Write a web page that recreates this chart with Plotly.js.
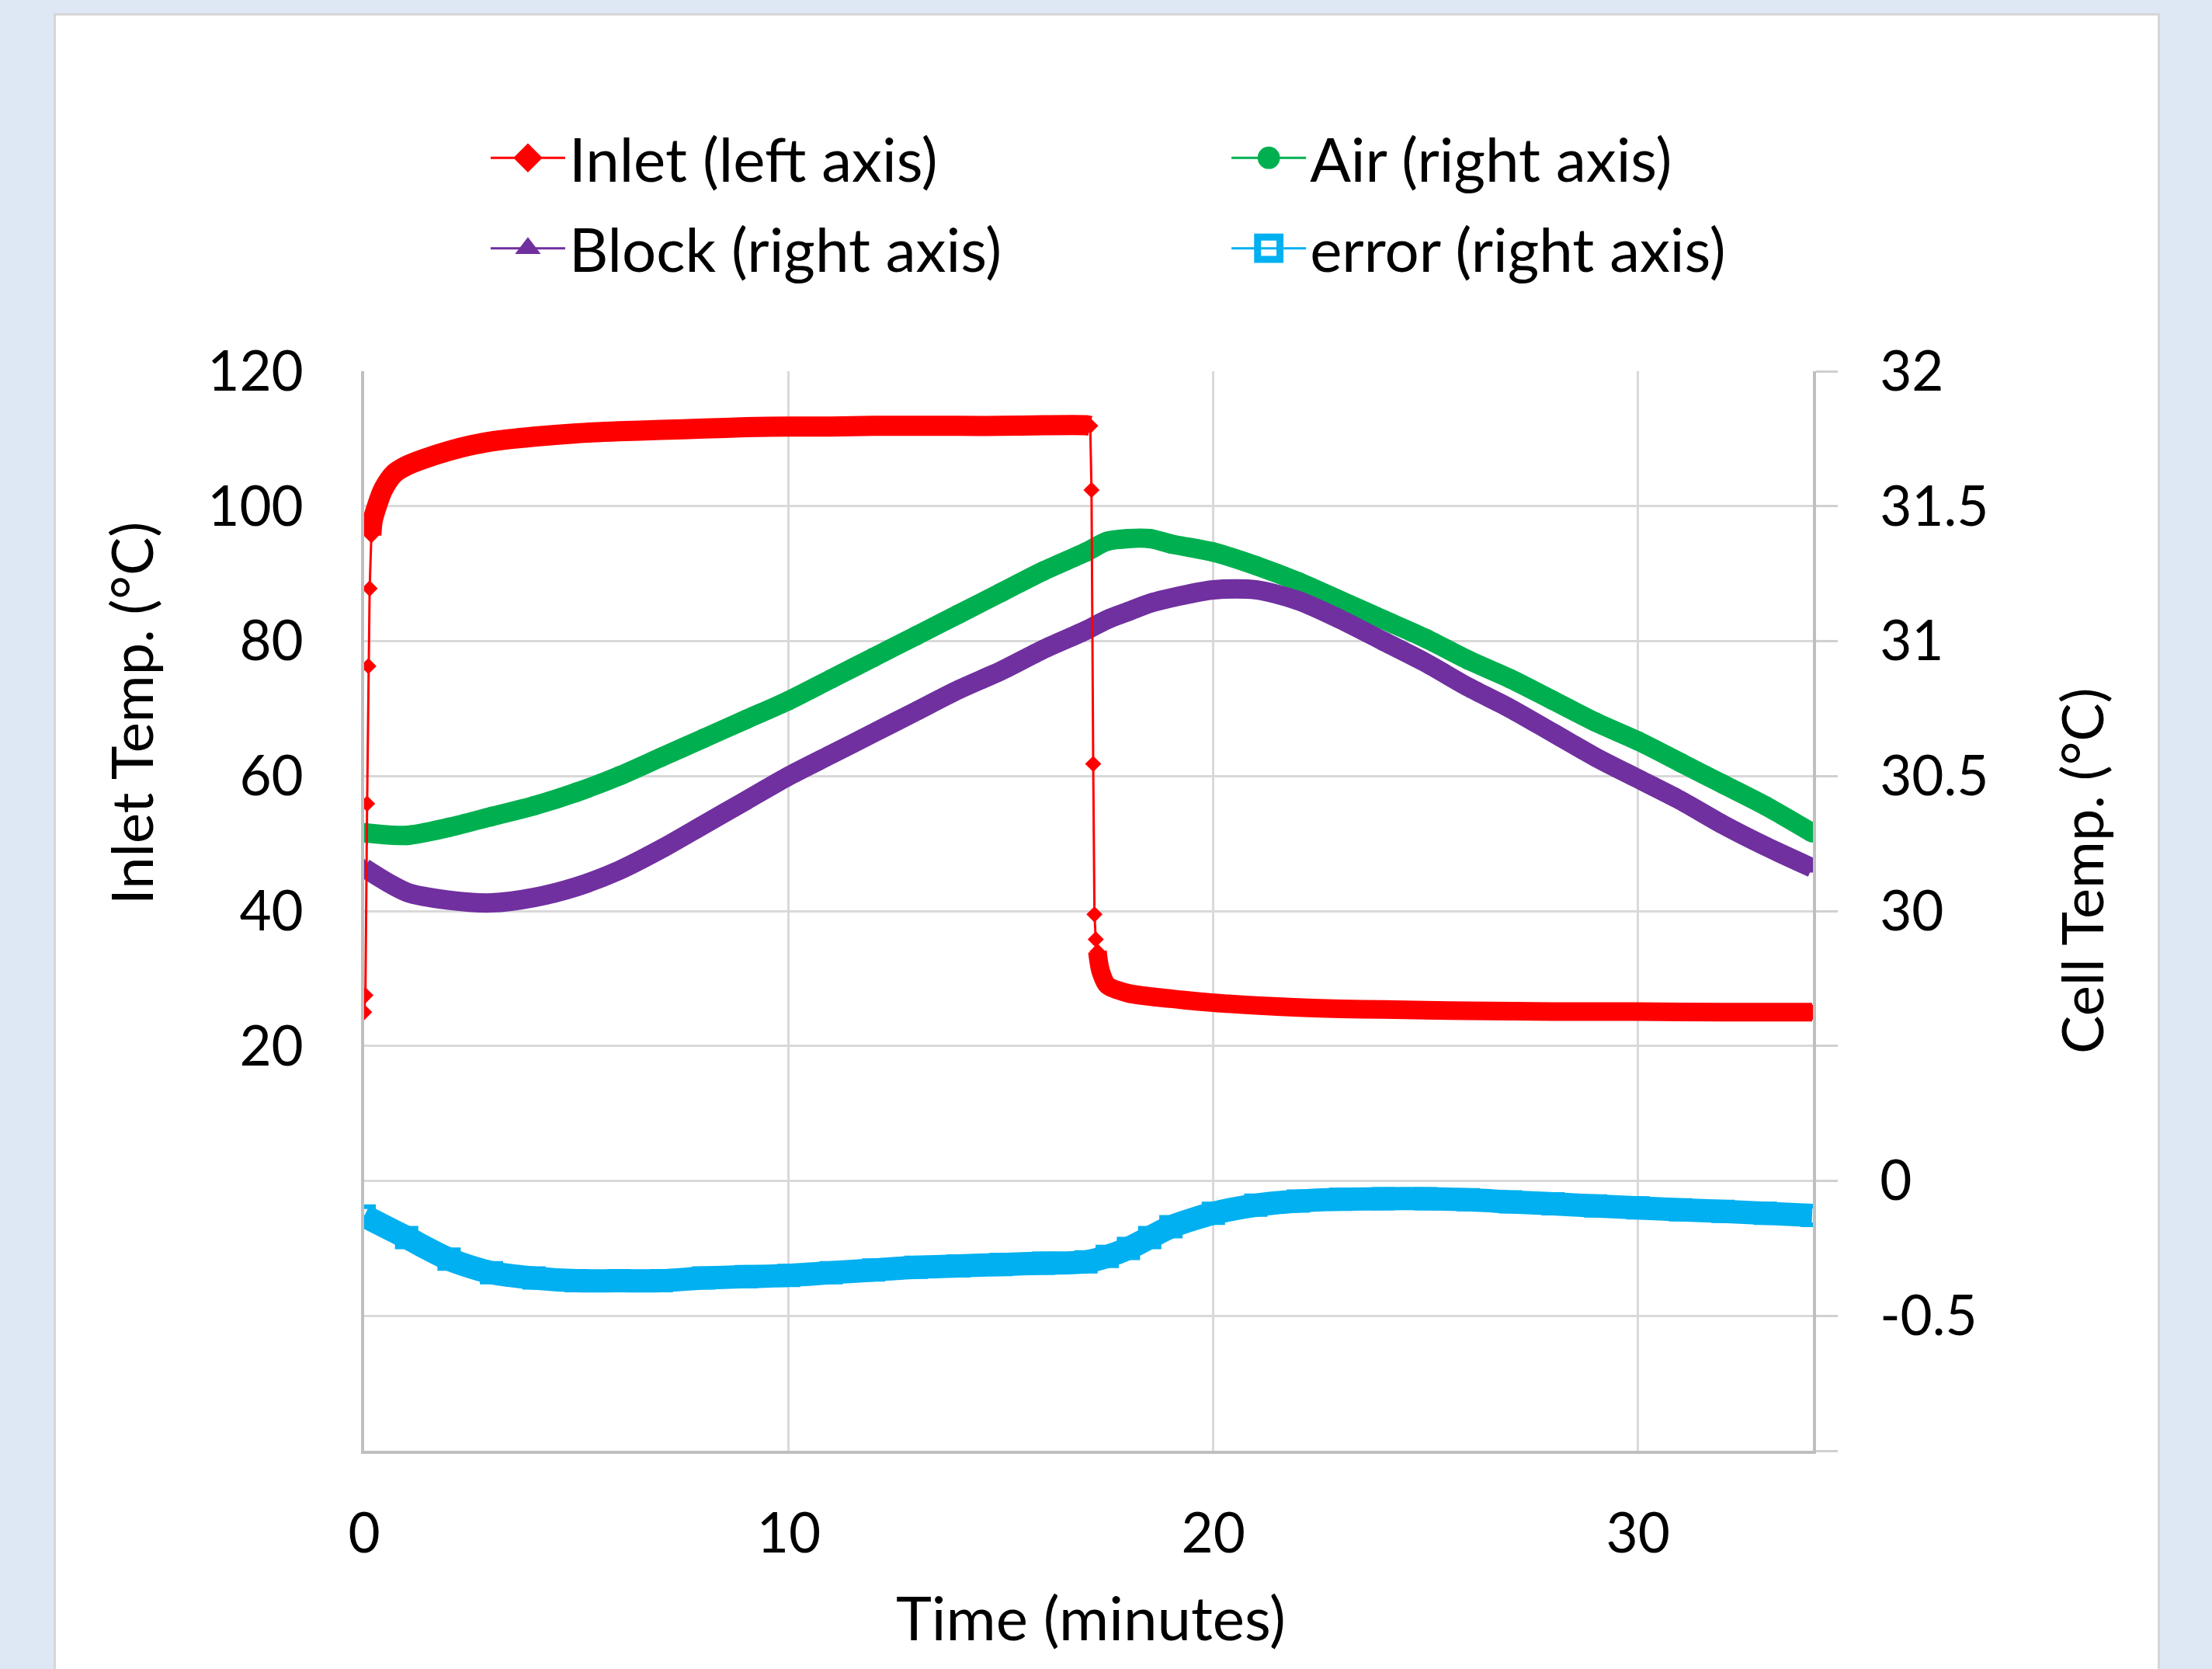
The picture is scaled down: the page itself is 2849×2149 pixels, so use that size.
<!DOCTYPE html>
<html>
<head>
<meta charset="utf-8">
<script src="https://cdn.plot.ly/plotly-3.0.1.min.js"></script>
<style>
  html, body { margin: 0; padding: 0; background: #dee8f4; overflow: hidden; }
  #panel { position: absolute; left: 69px; top: 17px; width: 2707px; height: 2132px;
           border: 3px solid #d6d6d6; border-bottom: none; background: #ffffff; }
  #chart { position: absolute; left: 0; top: 0; width: 2707px; height: 2132px; }
</style>
</head>
<body>
<div id="panel"><div id="chart"></div></div>
<script>
// ---------------- data ----------------
// Inlet temperature, left axis (°C) vs time (minutes)
const inletTime = [0, 0.03, 0.07, 0.10, 0.13, 0.17, 0.2, 0.3, 0.45, 0.7, 1.0, 1.4, 2.0, 2.5, 3.0, 4.0, 5.0, 6.0, 7.0, 8.0, 9.0, 10.0, 11.0, 12.0, 13.0, 14.0, 15.0, 16.0, 17.0, 17.1,
                   17.13, 17.17, 17.2, 17.23, 17.27, 17.3, 17.35, 17.5, 18.0, 19.0, 20.0, 21.0, 22.0, 23.0, 24.0, 25.0, 26.0, 28.0, 30.0, 32.0, 34.1];
const inletTemp = [25.0, 27.5, 55.9, 76.3, 87.8, 95.7, 97.8, 100.0, 102.5, 104.8, 106.0, 107.0, 108.2, 109.0, 109.6, 110.3, 110.8, 111.1, 111.3, 111.5, 111.7, 111.8, 111.8, 111.9, 111.9, 111.9, 111.9, 112.0, 112.0, 111.9,
                   102.4, 61.8, 39.5, 35.8, 34.0, 32.5, 31.0, 29.0, 27.8, 27.0, 26.4, 26.0, 25.7, 25.5, 25.4, 25.3, 25.2, 25.1, 25.1, 25.0, 25.0];

// Cell temperatures, right axis (°C)
const cellTime = [0, 1, 2, 3, 4, 5, 6, 7, 8, 9, 10, 11, 12, 13, 14, 15, 16, 17, 17.5, 18, 18.5, 19, 20, 21, 22, 23, 24, 25, 26, 27, 28, 29, 30, 31, 32, 33, 34.1];
const airTemp = [30.29, 30.28, 30.31, 30.35, 30.39, 30.44, 30.50, 30.57, 30.64, 30.71, 30.78, 30.86, 30.94, 31.02, 31.10, 31.18, 31.26, 31.33, 31.37, 31.38, 31.38, 31.36, 31.33, 31.28, 31.22, 31.15, 31.08, 31.01, 30.93, 30.86, 30.78, 30.70, 30.63, 30.55, 30.47, 30.39, 30.29];
const blockTemp = [30.16, 30.07, 30.04, 30.03, 30.05, 30.09, 30.15, 30.23, 30.32, 30.41, 30.50, 30.58, 30.66, 30.74, 30.82, 30.89, 30.97, 31.04, 31.08, 31.11, 31.14, 31.16, 31.19, 31.19, 31.15, 31.08, 31.00, 30.92, 30.83, 30.75, 30.66, 30.57, 30.49, 30.41, 30.32, 30.24, 30.16];
const errorVal = [-0.13, -0.21, -0.29, -0.34, -0.36, -0.37, -0.37, -0.37, -0.36, -0.355, -0.35, -0.34, -0.33, -0.32, -0.315, -0.31, -0.305, -0.30, -0.28, -0.25, -0.21, -0.17, -0.12, -0.09, -0.075, -0.068, -0.066, -0.066, -0.07, -0.078, -0.085, -0.093, -0.10, -0.107, -0.113, -0.12, -0.128];

// right axis labels (the right axis carries two scales: cell temp 30-32 and error -0.5..0)
const rightTickVals = [-1, -0.5, 0, 0.5, 1, 1.5, 2, 2.5, 3];
const rightTickText = ['', '-0.5', '0', '', '30', '30.5', '31', '31.5', '32'];
const leftTickVals = [20, 40, 60, 80, 100, 120];
const xTickVals = [0, 10, 20, 30];
const CELL_OFFSET = 29;  // cell temps drawn on the right axis as (T - 29)

// ---------------- style ----------------
const FONT = 'Lato, "Open Sans", sans-serif';
const FS_TEXT = 78;   // legend and x title
const FS_VTITLE = 74; // vertical axis titles
const FS_TICK = 71;   // tick labels
const C_INLET = '#ff0000', C_AIR = '#00b050', C_BLOCK = '#7030a0', C_ERR = '#00b0f0';

const airY = airTemp.map(v => v - CELL_OFFSET);
const blockY = blockTemp.map(v => v - CELL_OFFSET);

function band(x, y, color, width, yaxis) {
  return { x, y, yaxis, type: 'scatter', mode: 'lines', showlegend: false, hoverinfo: 'skip',
           line: { color, width, shape: 'spline', smoothing: 0.8 } };
}

// split inlet band into the two plateaus (no band on the fast rise / drop)
const riseEnd = inletTime.indexOf(0.17);
const dropStart = inletTime.indexOf(17.1);
const dropEnd = inletTime.indexOf(17.27);

const traces = [
  band(cellTime, airY, C_AIR, 25, 'y'),
  { x: cellTime, y: airY, yaxis: 'y', type: 'scatter', mode: 'lines+markers', name: 'Air (right axis)',
    legend: 'legend2',
    line: { color: C_AIR, width: 3 }, marker: { symbol: 'circle', size: 25, color: C_AIR } },
  band(cellTime, blockY, C_BLOCK, 25, 'y'),
  { x: cellTime, y: blockY, yaxis: 'y', type: 'scatter', mode: 'lines+markers', name: 'Block (right axis)',
    legend: 'legend3',
    line: { color: C_BLOCK, width: 3 }, marker: { symbol: 'triangle-up', size: 24, color: C_BLOCK } },
  band(cellTime, errorVal, C_ERR, 30, 'y'),
  { x: cellTime, y: errorVal, yaxis: 'y', type: 'scatter', mode: 'lines+markers', name: 'error (right axis)',
    legend: 'legend4',
    line: { color: C_ERR, width: 3 }, marker: { symbol: 'square-open', size: 24, color: C_ERR, line: { width: 6, color: C_ERR } } },
  band(inletTime.slice(riseEnd, dropStart + 1), inletTemp.slice(riseEnd, dropStart + 1), C_INLET, 26, 'y2'),
  band(inletTime.slice(dropEnd), inletTemp.slice(dropEnd), C_INLET, 24, 'y2'),
  { x: inletTime, y: inletTemp, yaxis: 'y2', type: 'scatter', mode: 'lines+markers', name: 'Inlet (left axis)',
    legend: 'legend',
    line: { color: C_INLET, width: 3 }, marker: { symbol: 'diamond', size: 16, color: C_INLET } }
];

const W = 2707, H = 2132;
const legendCommon = {
  orientation: 'h', xref: 'container', yref: 'container', xanchor: 'left', yanchor: 'middle',
  font: { family: FONT, size: FS_TEXT, color: '#000' }, bgcolor: 'rgba(0,0,0,0)',
  itemwidth: 96, tracegroupgap: 0
};
const COL1 = 0.2050, COL2 = 0.5575, ROW1 = 1 - 183.5 / H, ROW2 = 1 - 300 / H;
const titleFont = { family: FONT, size: FS_TEXT, color: '#000' };
const vTitleFont = { family: FONT, size: FS_VTITLE, color: '#000' };
const tickFont = { family: FONT, size: FS_TICK, color: '#000' };

const layout = {
  width: W, height: H,
  paper_bgcolor: '#ffffff', plot_bgcolor: '#ffffff',
  margin: { l: 397, r: 444, t: 458, b: 284, pad: 0, autoexpand: false },
  font: { family: FONT, size: FS_TICK, color: '#000' },
  showlegend: true,
  legend: Object.assign({}, legendCommon, { x: COL1, y: ROW1 }),
  legend2: Object.assign({}, legendCommon, { x: COL2, y: ROW1 }),
  legend3: Object.assign({}, legendCommon, { x: COL1, y: ROW2 }),
  legend4: Object.assign({}, legendCommon, { x: COL2, y: ROW2 }),
  xaxis: {
    range: [0, 34.12], tickvals: xTickVals, ticktext: xTickVals.map(String),
    showgrid: true, gridcolor: '#d9d9d9', gridwidth: 3, zeroline: false,
    showline: true, linecolor: '#bfbfbf', linewidth: 4, ticks: '',
    tickfont: tickFont, ticklabelstandoff: 42, automargin: false
  },
  yaxis: {
    side: 'right', range: [-1, 3], tickvals: rightTickVals, ticktext: rightTickText,
    showgrid: true, gridcolor: '#d9d9d9', gridwidth: 3, zeroline: false,
    showline: true, linecolor: '#bfbfbf', linewidth: 4,
    ticks: 'outside', ticklen: 28, tickwidth: 3, tickcolor: '#d0d0d0',
    tickfont: tickFont, ticklabelstandoff: 40, automargin: false
  },
  yaxis2: {
    overlaying: 'y', side: 'left', range: [-40, 120], tickvals: leftTickVals, ticktext: leftTickVals.map(String),
    showgrid: false, zeroline: false, showline: true, linecolor: '#bfbfbf', linewidth: 4, ticks: '',
    tickfont: tickFont, ticklabelstandoff: 60, automargin: false
  },
  annotations: [
    { text: 'Inlet Temp. (°C)', xref: 'paper', yref: 'paper', x: -0.1608, y: 0.6835, textangle: -90,
      showarrow: false, xanchor: 'center', yanchor: 'middle', font: vTitleFont },
    { text: 'Cell Temp. (°C)', xref: 'paper', yref: 'paper', x: 1.1849, y: 0.5374, textangle: -90,
      showarrow: false, xanchor: 'center', yanchor: 'middle', font: vTitleFont },
    { text: 'Time (minutes)', xref: 'paper', yref: 'paper', x: 0.5016, y: -0.154,
      showarrow: false, xanchor: 'center', yanchor: 'middle', font: titleFont }
  ]
};

Plotly.newPlot('chart', traces, layout, { displayModeBar: false, staticPlot: true }).then(gd => {
  // enlarge the legend marker glyphs (Plotly caps their size) to match the reference key
  gd.querySelectorAll('.legendpoints path.scatterpts').forEach(p => {
    const t = p.getAttribute('transform') || '';
    p.setAttribute('transform', t + ' scale(1.8)');
  });
});
</script>
</body>
</html>
